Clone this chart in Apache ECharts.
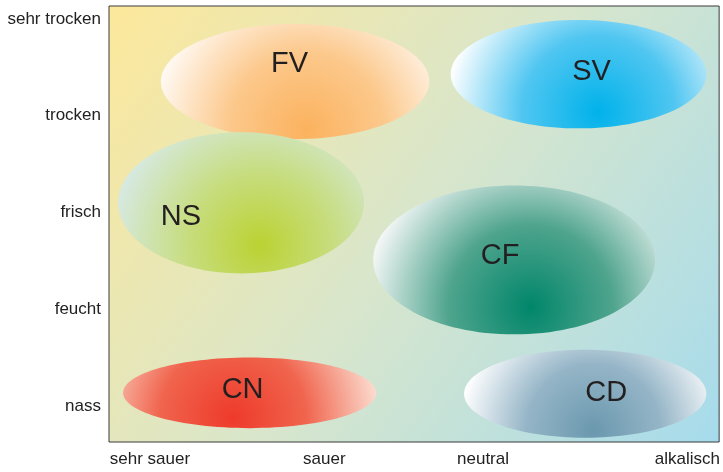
<!DOCTYPE html>
<html>
<head>
<meta charset="utf-8">
<style>
  html, body { margin: 0; padding: 0; background: #fff; }
  #chart { width: 723px; height: 472px; }
</style>
<script src="https://cdn.jsdelivr.net/npm/echarts@6/dist/echarts.min.js"></script>
</head>
<body>
<div id="chart"></div>
<script>
  // Achsen: Bodenreaktion (x) und Feuchte (y)
  var phLabels = ['sehr sauer', 'sauer', 'neutral', 'alkalisch'];
  var phTicks = [6.7, 35.3, 61.3, 94.8];
  var moistLabels = ['nass', 'feucht', 'frisch', 'trocken', 'sehr trocken'];
  var moistTicks = [0, 1, 2, 3, 4];

  // Vegetationseinheiten: Ausdehnung [xMin, xMax, yMin, yMax]
  var zoneNames = ['FV', 'SV', 'NS', 'CF', 'CN', 'CD'];
  var zoneExtent = [
    [8.5, 52.5, 2.76, 3.95],
    [56.0, 97.9, 2.87, 3.99],
    [1.5, 41.8, 1.37, 2.83],
    [43.3, 89.5, 0.74, 2.28],
    [2.3, 43.8, -0.23, 0.50],
    [58.2, 97.9, -0.33, 0.58]
  ];
  // Schwerpunkt (dunkelste Stelle)
  var zoneCore = [
    [32.4, 2.85],
    [80.2, 3.04],
    [24.7, 1.66],
    [69.1, 1.02],
    [20.3, -0.12],
    [79.4, -0.26]
  ];
  // Beschriftung
  var zoneLabelAt = [
    [29.6, 3.54],
    [79.1, 3.45],
    [11.8, 1.95],
    [64.1, 1.55],
    [21.9, 0.16],
    [81.5, 0.13]
  ];

  var zoneColors = {
    FV: ['#fbb25e', '#fcc88b', '#fff9f2'],
    SV: ['#00b2ea', '#50c6f1', '#ffffff'],
    NS: ['#bbd232', '#c7dd80', '#d6e9e0'],
    CF: ['#00866a', '#4fa48d', '#f2f6f5'],
    CN: ['#ee3a2b', '#f0644d', '#fbdccf'],
    CD: ['#6a98ae', '#95b5c7', '#ffffff']
  };

  var chart = echarts.init(document.getElementById('chart'));

  var zoneData = zoneNames.map(function (n, i) {
    var e = zoneExtent[i];
    return [e[0], e[1], e[2], e[3], zoneCore[i][0], zoneCore[i][1], zoneLabelAt[i][0], zoneLabelAt[i][1], i];
  });

  function renderZone(params, api) {
    var p1 = api.coord([api.value(0), api.value(3)]);
    var p2 = api.coord([api.value(1), api.value(2)]);
    var core = api.coord([api.value(4), api.value(5)]);
    var lab = api.coord([api.value(6), api.value(7)]);
    var name = zoneNames[api.value(8)];
    var cx = (p1[0] + p2[0]) / 2, cy = (p1[1] + p2[1]) / 2;
    var rx = Math.abs(p2[0] - p1[0]) / 2, ry = Math.abs(p2[1] - p1[1]) / 2;
    var r = Math.max(Math.hypot(core[0] - (cx - rx), core[1] - cy),
                     Math.hypot(core[0] - (cx + rx), core[1] - cy));
    var c = zoneColors[name];
    return {
      type: 'group',
      children: [
        {
          type: 'ellipse',
          shape: { cx: cx, cy: cy, rx: rx, ry: ry },
          style: {
            fill: {
              type: 'radial', x: core[0], y: core[1], r: r, global: true,
              colorStops: [
                { offset: 0, color: c[0] },
                { offset: 0.5, color: c[1] },
                { offset: 1, color: c[2] }
              ]
            }
          }
        },
        {
          type: 'text',
          x: lab[0], y: lab[1],
          style: {
            text: name, fill: '#231f20',
            font: '29px "Liberation Sans", Arial, sans-serif',
            align: 'center', verticalAlign: 'middle'
          }
        }
      ]
    };
  }

  chart.setOption({
    animation: false,
    grid: {
      left: 109, right: 2, top: 6, bottom: 30,
      show: true,
      borderColor: '#3a3a3a',
      borderWidth: 1,
      backgroundColor: new echarts.graphic.LinearGradient(0, 0, 1, 1, [
        { offset: 0, color: '#fde89b' },
        { offset: 0.5, color: '#d8e6cc' },
        { offset: 1, color: '#a6dbec' }
      ])
    },
    xAxis: {
      type: 'value', min: 0, max: 100,
      axisLine: { show: false },
      axisTick: { show: false },
      splitLine: { show: false },
      axisLabel: {
        customValues: phTicks,
        margin: 9,
        color: '#222',
        fontSize: 17,
        fontFamily: '"Liberation Sans", Arial, sans-serif',
        formatter: function (v) {
          var i = phTicks.indexOf(v);
          return i >= 0 ? phLabels[i] : '';
        }
      }
    },
    yAxis: {
      type: 'value', min: -0.373, max: 4.135,
      axisLine: { show: false },
      axisTick: { show: false },
      splitLine: { show: false },
      axisLabel: {
        customValues: moistTicks,
        margin: 8,
        color: '#222',
        fontSize: 17,
        fontFamily: '"Liberation Sans", Arial, sans-serif',
        formatter: function (v) {
          var i = moistTicks.indexOf(v);
          return i >= 0 ? moistLabels[i] : '';
        }
      }
    },
    series: [{
      type: 'custom',
      renderItem: renderZone,
      data: zoneData,
      encode: { x: [0, 1], y: [2, 3] },
      clip: true
    }]
  });
</script>
</body>
</html>
